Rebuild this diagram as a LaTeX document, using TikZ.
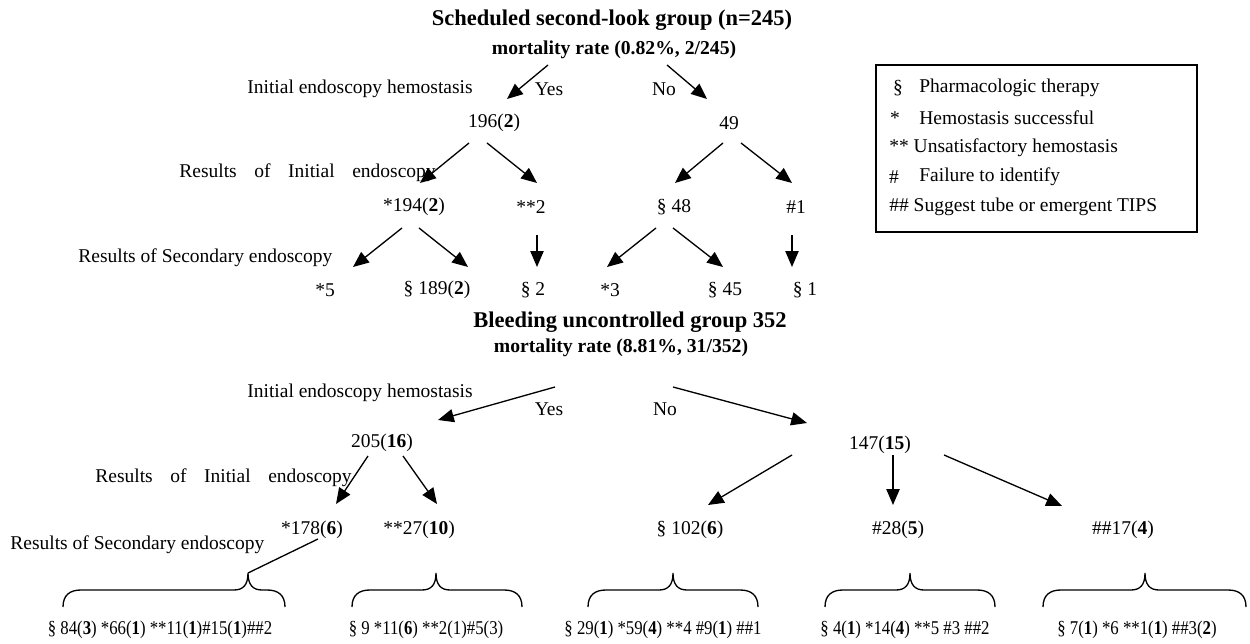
\documentclass[tikz,border=0pt]{standalone}
\usepackage{fontspec}
\setmainfont{Liberation Serif}
\newfontfamily\narrowfont[FakeStretch=0.86]{Liberation Serif}
\usetikzlibrary{arrows.meta}

\begin{document}
\begin{tikzpicture}[x=0.02cm, y=-0.02cm,
    lbl/.style={font=\fontsize{11.1}{13}\selectfont, inner sep=0pt},
    ttl/.style={font=\fontsize{12.8}{15}\selectfont\bfseries, inner sep=0pt},
    rate/.style={font=\fontsize{11.2}{13}\selectfont\bfseries, inner sep=0pt},
    sub/.style={font=\narrowfont\fontsize{11.1}{13}\selectfont, inner sep=0pt},
    arr/.style={-{Triangle[length=9pt,width=7.5pt]}, line width=0.75pt},
    brc/.style={line width=0.75pt}]

            \useasboundingbox (0,0) rectangle (1250,644);

            % --------------------------------------------------
            % GROUP 1: Scheduled second-look
            % --------------------------------------------------
            \node[ttl] (t1) at (612,20) {Scheduled second-look group (n=245)};
            \node[rate] (r1) at (614,50) {mortality rate (0.82\%, 2/245)};
            \node[lbl, anchor=west] (init1) at (247,89) {Initial endoscopy hemostasis};
            \node[lbl] (yes1) at (549,89) {Yes};
            \node[lbl] (no1) at (664,89) {No};
            \node[lbl] (n196) at (494,123) {196(\textbf{2})};
            \node[lbl] (n49) at (729,123) {49};
            \node[lbl, anchor=west] (res1a) at (179,173) {Results\hspace{10pt}of\hspace{10pt}Initial\hspace{10pt}endoscopy};
            \node[lbl] (n194) at (414,207) {*194(\textbf{2})};
            \node[lbl] (n2a) at (531,207) {**2};
            \node[lbl] (n48) at (674,207) {§ 48};
            \node[lbl] (n1a) at (796,207) {\#1};
            \node[lbl, anchor=west] (res1b) at (78,258) {Results of Secondary endoscopy};
            \node[lbl] (n5) at (325,290) {*5};
            \node[lbl] (n189) at (437,290) {§ 189(\textbf{2})};
            \node[lbl] (n2b) at (533,290) {§ 2};
            \node[lbl] (n3) at (610,290) {*3};
            \node[lbl] (n45) at (725,290) {§ 45};
            \node[lbl] (n1b) at (805,290) {§ 1};

            \draw[arr] ([shift={(-66,15)}]r1.center) -- ([shift={(13,-24)}]n196.center);
            \draw[arr] ([shift={(53,15)}]r1.center) -- ([shift={(-22,-24)}]n49.center);
            \draw[arr] ([shift={(-25,20)}]n196.center) -- ([shift={(6,-24)}]n194.center);
            \draw[arr] ([shift={(-7,20)}]n196.center) -- ([shift={(6,-24)}]n2a.center);
            \draw[arr] ([shift={(-6,20)}]n49.center) -- ([shift={(1,-24)}]n48.center);
            \draw[arr] ([shift={(12,20)}]n49.center) -- ([shift={(-4,-24)}]n1a.center);
            \draw[arr] ([shift={(-12,21)}]n194.center) -- ([shift={(28,-23)}]n5.center);
            \draw[arr] ([shift={(5,21)}]n194.center) -- ([shift={(31,-23)}]n189.center);
            \draw[arr] ([shift={(6,28)}]n2a.center) -- ([shift={(4,-23)}]n2b.center);
            \draw[arr] ([shift={(-18,21)}]n48.center) -- ([shift={(-3,-23)}]n3.center);
            \draw[arr] ([shift={(-1,21)}]n48.center) -- ([shift={(-2,-23)}]n45.center);
            \draw[arr] ([shift={(-4,28)}]n1a.center) -- ([shift={(-13,-23)}]n1b.center);

            % Legend Box
            \draw[line width=0.75pt] (876,65) rectangle (1197,232);
            \node[lbl] (k1) at (898,88) {§};
            \node[lbl, anchor=west] (k1t) at (919,88) {Pharmacologic therapy};
            \node[lbl] (k2) at (895,118) {*};
            \node[lbl, anchor=west] (k2t) at (919,118) {Hemostasis successful};
            \node[lbl, anchor=west] (k3) at (889,148) {** Unsatisfactory hemostasis};
            \node[lbl] (k4) at (894,177) {\#};
            \node[lbl, anchor=west] (k4t) at (919,177) {Failure to identify};
            \node[lbl, anchor=west] (k5) at (889,207) {\#\# Suggest tube or emergent TIPS};

            % --------------------------------------------------
            % GROUP 2: Bleeding uncontrolled
            % --------------------------------------------------
            \node[ttl] (t2) at (630,322) {Bleeding uncontrolled group 352};
            \node[rate] (r2) at (621,348) {mortality rate (8.81\%, 31/352)};
            \node[lbl, anchor=west] (init2) at (247,393) {Initial endoscopy hemostasis};
            \node[lbl] (yes2) at (549,409) {Yes};
            \node[lbl] (no2) at (665,409) {No};
            \node[lbl] (n205) at (382,443) {205(\textbf{16})};
            \node[lbl] (n147) at (880,445) {147(\textbf{15})};
            \node[lbl, anchor=west] (res2a) at (95,478) {Results\hspace{10pt}of\hspace{10pt}Initial\hspace{10pt}endoscopy};
            \node[lbl] (n178) at (312,530) {*178(\textbf{6})};
            \node[lbl] (n27) at (419,530) {**27(\textbf{10})};
            \node[lbl] (n102) at (690,530) {§ 102(\textbf{6})};
            \node[lbl] (n28) at (898,530) {\#28(\textbf{5})};
            \node[lbl] (n17) at (1123,530) {\#\#17(\textbf{4})};
            \node[lbl, anchor=west] (res2b) at (10,545) {Results of Secondary endoscopy};

            \draw[arr] ([shift={(-66,39)}]r2.center) -- ([shift={(56,-23)}]n205.center);
            \draw[arr] ([shift={(52,39)}]r2.center) -- ([shift={(-73,-22)}]n147.center);
            \draw[arr] ([shift={(-14,13)}]n205.center) -- ([shift={(24,-26)}]n178.center);
            \draw[arr] ([shift={(21,13)}]n205.center) -- ([shift={(18,-26)}]n27.center);
            \draw[arr] ([shift={(-88,10)}]n147.center) -- ([shift={(18,-25)}]n102.center);
            \draw[arr] ([shift={(13,10)}]n147.center) -- ([shift={(-5,-25)}]n28.center);
            \draw[arr] ([shift={(64,10)}]n147.center) -- ([shift={(-61,-24)}]n17.center);

            % Braces over the secondary results
            \foreach \l/\m/\r in {63/248/285, 352/436/522, 588/673/758, 825/910/995, 1043/1145/1246}
                \draw[brc] (\l,607) .. controls (\l,595) and (\l+7,590) .. (\l+18,590)
                    -- (\m-14,590) .. controls (\m-5,590) and (\m,585) .. (\m,573)
                    .. controls (\m,585) and (\m+5,590) .. (\m+14,590)
                    -- (\r-18,590) .. controls (\r-7,590) and (\r,595) .. (\r,607);
            \coordinate (b1) at (248,573);
            \draw[brc] ([shift={(6,9)}]n178.center) -- (b1);

            \node[sub] (s1) at (160,630) {§ 84(\textbf{3}) *66(\textbf{1}) **11(\textbf{1})\#15(\textbf{1})\#\#2};
            \node[sub] (s2) at (426,630) {§ 9 *11(\textbf{6}) **2(1)\#5(3)};
            \node[sub] (s3) at (663,630) {§ 29(\textbf{1}) *59(\textbf{4}) **4 \#9(\textbf{1}) \#\#1};
            \node[sub] (s4) at (905,630) {§ 4(\textbf{1}) *14(\textbf{4}) **5 \#3 \#\#2};
            \node[sub] (s5) at (1137,630) {§ 7(\textbf{1}) *6 **1(\textbf{1}) \#\#3(\textbf{2})};

        \end{tikzpicture}
\end{document}
